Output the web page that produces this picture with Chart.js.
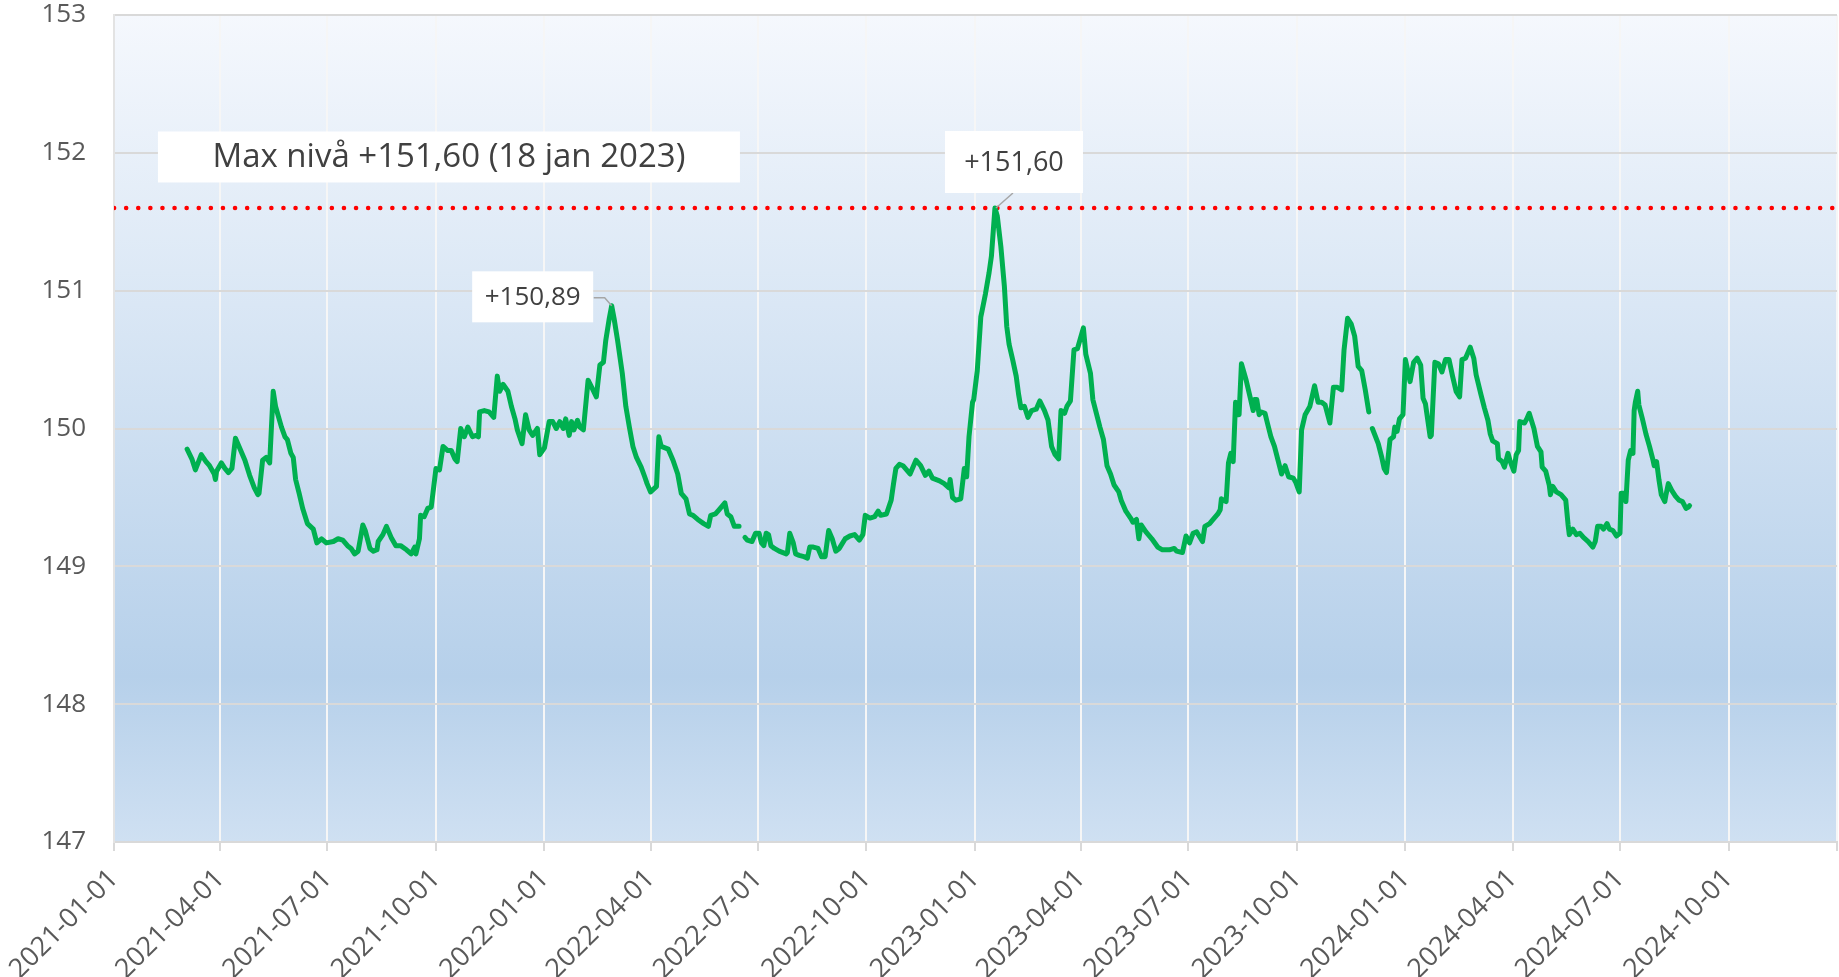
<!DOCTYPE html>
<html>
<head>
<meta charset="utf-8">
<script src="https://cdn.jsdelivr.net/npm/chart.js@4.4.1/dist/chart.umd.min.js"></script>
<style>
  html, body { margin: 0; padding: 0; background: #ffffff; }
  #wrap { width: 1839px; height: 977px; position: relative; }
</style>
</head>
<body>
<div id="wrap"><canvas id="levelChart"></canvas></div>
<script>
// ---------- data ----------
const dates = [
  '2021-03-04','2021-03-08','2021-03-11','2021-03-16','2021-03-20','2021-03-23','2021-03-27','2021-03-28','2021-03-29','2021-04-02',
  '2021-04-05','2021-04-08','2021-04-11','2021-04-14','2021-04-17','2021-04-22','2021-04-26','2021-04-30','2021-05-03','2021-05-04',
  '2021-05-07','2021-05-10','2021-05-13','2021-05-16','2021-05-18','2021-05-23','2021-05-26','2021-05-28','2021-05-31','2021-06-02',
  '2021-06-04','2021-06-07','2021-06-10','2021-06-14','2021-06-19','2021-06-22','2021-06-26','2021-06-30','2021-07-06','2021-07-10',
  '2021-07-14','2021-07-18','2021-07-21','2021-07-24','2021-07-27','2021-07-31','2021-08-02','2021-08-06','2021-08-09','2021-08-12',
  '2021-08-13','2021-08-17','2021-08-20','2021-08-24','2021-08-28','2021-09-01','2021-09-06','2021-09-10','2021-09-13','2021-09-14',
  '2021-09-17','2021-09-18','2021-09-21','2021-09-24','2021-09-27','2021-10-01','2021-10-04','2021-10-07','2021-10-11','2021-10-14',
  '2021-10-17','2021-10-19','2021-10-22','2021-10-25','2021-10-28','2021-11-01','2021-11-04','2021-11-06','2021-11-07','2021-11-11',
  '2021-11-15','2021-11-19','2021-11-22','2021-11-24','2021-11-27','2021-12-01','2021-12-04','2021-12-07','2021-12-09','2021-12-13',
  '2021-12-16','2021-12-19','2021-12-22','2021-12-26','2021-12-28','2022-01-01','2022-01-05','2022-01-08','2022-01-11','2022-01-14',
  '2022-01-17','2022-01-19','2022-01-22','2022-01-24','2022-01-26','2022-01-29','2022-01-31','2022-02-03','2022-02-07','2022-02-10',
  '2022-02-14','2022-02-17','2022-02-20','2022-02-22','2022-02-25','2022-02-27','2022-03-01','2022-03-04','2022-03-08','2022-03-11',
  '2022-03-14','2022-03-17','2022-03-20','2022-03-24','2022-03-27','2022-03-29','2022-04-01','2022-04-06','2022-04-08','2022-04-10',
  '2022-04-16','2022-04-20','2022-04-24','2022-04-27','2022-05-01','2022-05-04','2022-05-07','2022-05-11','2022-05-16','2022-05-20',
  '2022-05-22','2022-05-26','2022-05-29','2022-06-03','2022-06-05','2022-06-08','2022-06-11','2022-06-15','2022-06-17','2022-06-20',
  '2022-06-22','2022-06-26','2022-06-29','2022-07-02','2022-07-04','2022-07-06','2022-07-08','2022-07-10','2022-07-12','2022-07-15',
  '2022-07-19','2022-07-25','2022-07-26','2022-07-28','2022-07-31','2022-08-02','2022-08-05','2022-08-09','2022-08-12','2022-08-14',
  '2022-08-17','2022-08-21','2022-08-24','2022-08-27','2022-08-30','2022-09-02','2022-09-05','2022-09-08','2022-09-13','2022-09-17',
  '2022-09-21','2022-09-25','2022-09-28','2022-09-30','2022-10-04','2022-10-08','2022-10-11','2022-10-13','2022-10-18','2022-10-22',
  '2022-10-24','2022-10-26','2022-10-29','2022-11-01','2022-11-07','2022-11-12','2022-11-16','2022-11-20','2022-11-23','2022-11-26',
  '2022-12-02','2022-12-06','2022-12-10','2022-12-11','2022-12-13','2022-12-16','2022-12-20','2022-12-23','2022-12-25','2022-12-27',
  '2022-12-30','2022-12-31','2023-01-03','2023-01-06','2023-01-07','2023-01-10','2023-01-13','2023-01-15','2023-01-18','2023-01-20',
  '2023-01-23','2023-01-26','2023-01-28','2023-01-30','2023-02-02','2023-02-05','2023-02-07','2023-02-09','2023-02-12','2023-02-15',
  '2023-02-18','2023-02-22','2023-02-25','2023-03-01','2023-03-04','2023-03-07','2023-03-10','2023-03-13','2023-03-15','2023-03-18',
  '2023-03-20','2023-03-23','2023-03-26','2023-03-29','2023-04-03','2023-04-05','2023-04-09','2023-04-11','2023-04-14','2023-04-17',
  '2023-04-20','2023-04-23','2023-04-26','2023-04-29','2023-05-03','2023-05-05','2023-05-09','2023-05-13','2023-05-15','2023-05-18',
  '2023-05-20','2023-05-22','2023-05-26','2023-05-31','2023-06-05','2023-06-09','2023-06-15','2023-06-19','2023-06-21','2023-06-26',
  '2023-06-29','2023-07-02','2023-07-05','2023-07-08','2023-07-13','2023-07-15','2023-07-19','2023-07-22','2023-07-26','2023-07-28',
  '2023-07-29','2023-08-02','2023-08-04','2023-08-06','2023-08-08','2023-08-10','2023-08-13','2023-08-15','2023-08-19','2023-08-22',
  '2023-08-25','2023-08-26','2023-08-28','2023-08-30','2023-09-01','2023-09-04','2023-09-06','2023-09-09','2023-09-12','2023-09-15',
  '2023-09-18','2023-09-21','2023-09-24','2023-09-28','2023-09-30','2023-10-03','2023-10-05','2023-10-08','2023-10-12','2023-10-16',
  '2023-10-19','2023-10-22','2023-10-25','2023-10-29','2023-11-01','2023-11-04','2023-11-08','2023-11-10','2023-11-13','2023-11-16',
  '2023-11-19','2023-11-22','2023-11-25','2023-11-28','2023-12-01','2023-12-02','2023-12-04','2023-12-09','2023-12-12','2023-12-14',
  '2023-12-16','2023-12-19','2023-12-22','2023-12-23','2023-12-25','2023-12-27','2023-12-30','2024-01-01','2024-01-03','2024-01-05',
  '2024-01-08','2024-01-11','2024-01-14','2024-01-16','2024-01-18','2024-01-22','2024-01-23','2024-01-26','2024-01-29','2024-02-01',
  '2024-02-04','2024-02-07','2024-02-10','2024-02-13','2024-02-16','2024-02-18','2024-02-21','2024-02-25','2024-02-28','2024-03-01',
  '2024-03-05','2024-03-08','2024-03-11','2024-03-13','2024-03-15','2024-03-19','2024-03-20','2024-03-23','2024-03-25','2024-03-28',
  '2024-03-30','2024-04-02','2024-04-04','2024-04-06','2024-04-07','2024-04-11','2024-04-13','2024-04-15','2024-04-19','2024-04-22',
  '2024-04-25','2024-04-26','2024-04-29','2024-05-02','2024-05-03','2024-05-05','2024-05-08','2024-05-12','2024-05-16','2024-05-18',
  '2024-05-19','2024-05-22','2024-05-25','2024-05-28','2024-05-31','2024-06-04','2024-06-08','2024-06-10','2024-06-12','2024-06-15',
  '2024-06-17','2024-06-20','2024-06-22','2024-06-25','2024-06-28','2024-07-01','2024-07-02','2024-07-04','2024-07-06','2024-07-08',
  '2024-07-10','2024-07-12','2024-07-13','2024-07-14','2024-07-16','2024-07-17','2024-07-20','2024-07-23','2024-07-26','2024-07-29',
  '2024-07-30','2024-08-01','2024-08-03','2024-08-05','2024-08-08','2024-08-09','2024-08-11','2024-08-14','2024-08-17','2024-08-20',
  '2024-08-23','2024-08-26','2024-08-28','2024-08-29'
];

// null = gap in the series
const values = [
  149.85,149.78,149.70,149.81,149.76,149.73,149.67,149.63,149.69,149.75,
  149.71,149.68,149.71,149.93,149.87,149.77,149.66,149.57,149.52,149.53,
  149.77,149.79,149.75,150.27,150.16,150.01,149.94,149.92,149.82,149.79,
  149.63,149.53,149.42,149.31,149.27,149.17,149.20,149.17,149.18,149.20,
  149.19,149.15,149.13,149.09,149.11,149.30,149.26,149.13,149.11,149.12,
  149.18,149.23,149.29,149.21,149.15,149.15,149.12,149.09,149.14,149.09,
  149.20,149.37,149.36,149.42,149.43,149.71,149.70,149.87,149.84,149.84,
  149.78,149.76,150.00,149.94,150.01,149.94,149.95,149.94,150.12,150.13,
  150.12,150.08,150.38,150.27,150.32,150.27,150.16,150.07,149.99,149.89,
  150.10,149.99,149.95,150.00,149.81,149.86,150.05,150.05,150.00,150.05,
  150.00,150.07,149.95,150.05,149.99,150.06,150.01,149.99,150.35,150.30,
  150.23,150.46,150.48,150.64,150.80,150.89,150.80,150.64,150.40,150.16,
  150.01,149.87,149.79,149.72,149.65,149.60,149.54,149.58,149.94,149.87,
  149.85,149.77,149.67,149.53,149.49,149.38,149.37,149.34,149.31,149.29,
  149.37,149.38,149.41,149.46,149.38,149.36,149.29,149.29,null,149.21,
  149.19,149.18,149.24,149.24,149.17,149.15,149.24,149.23,149.15,149.13,
  149.11,149.09,149.10,149.24,149.17,149.09,149.08,149.07,149.06,149.14,
  149.14,149.13,149.07,149.07,149.26,149.20,149.11,149.13,149.20,149.22,
  149.23,149.19,149.23,149.37,149.35,149.36,149.40,149.37,149.38,149.48,
  149.60,149.71,149.74,149.73,149.67,149.77,149.73,149.66,149.69,149.64,
  149.62,149.60,149.57,149.63,149.50,149.48,149.49,149.71,149.65,149.94,
  150.19,150.21,150.42,150.81,150.85,150.98,151.13,151.25,151.60,151.54,
  151.32,151.03,150.74,150.61,150.50,150.38,150.25,150.15,150.16,150.08,
  150.13,150.14,150.20,150.13,150.06,149.87,149.81,149.78,150.13,150.11,
  150.16,150.20,150.57,150.58,150.73,150.54,150.40,150.21,150.11,150.01,
  149.92,149.73,149.67,149.59,149.54,149.48,149.40,149.35,149.32,149.34,
  149.20,149.30,149.25,149.20,149.14,149.12,149.12,149.13,149.11,149.10,
  149.22,149.17,149.24,149.25,149.18,149.29,149.31,149.34,149.38,149.41,
  149.49,149.47,149.75,149.82,149.76,150.19,150.10,150.47,150.35,150.24,
  150.13,150.21,150.21,150.10,150.12,150.11,150.04,149.94,149.87,149.77,
  149.67,149.73,149.65,149.64,149.61,149.54,149.99,150.10,150.16,150.31,
  150.19,150.19,150.17,150.04,150.30,150.30,150.28,150.57,150.80,150.76,
  150.67,150.45,150.42,150.28,150.12,null,150.00,149.89,149.79,149.71,
  149.68,149.92,149.94,150.01,149.98,150.07,150.10,150.50,150.42,150.34,
  150.48,150.51,150.46,150.22,150.18,149.94,149.95,150.48,150.47,150.41,
  150.50,150.50,150.38,150.27,150.23,150.50,150.51,150.59,150.51,150.39,
  150.25,150.15,150.06,149.96,149.91,149.89,149.78,149.76,149.72,149.82,
  149.76,149.69,149.81,149.84,150.05,150.04,150.07,150.11,150.00,149.87,
  149.83,149.72,149.69,149.59,149.52,149.58,149.54,149.52,149.48,149.30,
  149.23,149.27,149.23,149.24,149.21,149.18,149.14,149.18,149.29,149.29,
  149.27,149.31,149.27,149.26,149.22,149.24,149.53,149.53,149.47,149.77,
  149.84,149.82,150.13,150.19,150.27,150.17,150.07,149.96,149.87,149.77,
  149.73,149.76,149.63,149.52,149.47,149.52,149.60,149.55,149.51,149.48,
  149.47,149.42,149.43,149.44
];

const quarterTicks = [
  '2021-01-01','2021-04-01','2021-07-01','2021-10-01',
  '2022-01-01','2022-04-01','2022-07-01','2022-10-01',
  '2023-01-01','2023-04-01','2023-07-01','2023-10-01',
  '2024-01-01','2024-04-01','2024-07-01','2024-10-01',
  '2025-01-01'
];
const yTicks = [147, 148, 149, 150, 151, 152, 153];

const maxLevel = 151.60;
const maxDate = '2023-01-18';
const secondPeakDate = '2022-02-27';

const swedishMonths = ['jan','feb','mar','apr','maj','jun','jul','aug','sep','okt','nov','dec'];

// ---------- helpers ----------
const toMs = d => Date.parse(d + 'T00:00:00Z');
const fmtLevel = v => '+' + v.toFixed(2).replace('.', ',');
const fmtDay = d => {
  const t = new Date(toMs(d));
  return t.getUTCDate() + ' ' + swedishMonths[t.getUTCMonth()] + ' ' + t.getUTCFullYear();
};
const valueAt = d => values[dates.indexOf(d)];

const xMin = toMs(quarterTicks[0]);
const xMax = toMs(quarterTicks[quarterTicks.length - 1]);

const FONT = "'Open Sans', 'DejaVu Sans', sans-serif";
const TEXT = '#595959';

/* ================= BACKGROUND GRADIENT ================= */

const plotBackground = {
  id: 'plotBackground',
  beforeDraw(chart) {
    const { ctx, chartArea: a } = chart;
    const g = ctx.createLinearGradient(0, a.top, 0, a.bottom);
    g.addColorStop(0, '#f5f8fd');
    g.addColorStop(0.35, '#dae7f5');
    g.addColorStop(0.8, '#b6d0ea');
    g.addColorStop(1, '#cfe0f2');
    ctx.save();
    ctx.fillStyle = g;
    ctx.fillRect(a.left, a.top, a.right - a.left, a.bottom - a.top);
    ctx.restore();
  }
};

/* ================= LABEL BOXES ================= */

function labelBox(ctx, cx, cy, w, h, text, size) {
  ctx.fillStyle = '#ffffff';
  ctx.fillRect(cx - w / 2, cy - h / 2, w, h);
  ctx.fillStyle = '#404040';
  ctx.font = size + 'px ' + FONT;
  ctx.textAlign = 'center';
  ctx.textBaseline = 'middle';
  ctx.fillText(text, cx, cy + 1);
}

const annotations = {
  id: 'annotations',
  afterDatasetsDraw(chart) {
    const { ctx, scales: { x, y } } = chart;
    ctx.save();

    // headline box
    const hx = x.getPixelForValue(toMs('2021-10-12'));
    const hy = y.getPixelForValue(151.97);
    labelBox(ctx, hx, hy, 582, 51,
      'Max nivå ' + fmtLevel(maxLevel) + ' (' + fmtDay(maxDate) + ')', 33);

    // top peak label
    const p1x = x.getPixelForValue(toMs(maxDate));
    const p1y = y.getPixelForValue(valueAt(maxDate));
    ctx.strokeStyle = '#a6a6a6';
    ctx.lineWidth = 1.5;
    ctx.beginPath();
    ctx.moveTo(p1x + 18, p1y - 15);
    ctx.lineTo(p1x + 1, p1y);
    ctx.stroke();
    labelBox(ctx, p1x + 19, p1y - 46, 138, 62, fmtLevel(valueAt(maxDate)), 27);

    // 2022 peak label
    const p2x = x.getPixelForValue(toMs(secondPeakDate));
    const p2y = y.getPixelForValue(valueAt(secondPeakDate));
    ctx.beginPath();
    ctx.moveTo(p2x - 18, p2y - 8);
    ctx.lineTo(p2x - 7, p2y - 8);
    ctx.lineTo(p2x, p2y);
    ctx.stroke();
    labelBox(ctx, p2x - 79, p2y - 9, 121, 51, fmtLevel(valueAt(secondPeakDate)), 26);

    ctx.restore();
  }
};

/* ================= CHART ================= */

const ctx = document.getElementById('levelChart').getContext('2d');

new Chart(ctx, {
  type: 'line',
  data: {
    datasets: [
      {
        label: 'Nivå',
        data: dates.map((d, i) => ({ x: toMs(d), y: values[i] })),
        borderColor: '#00b050',
        borderWidth: 5,
        pointRadius: 0,
        tension: 0,
        spanGaps: false,
        borderJoinStyle: 'round',
        borderCapStyle: 'round'
      },
      {
        label: 'Max nivå',
        data: [{ x: xMin, y: maxLevel }, { x: xMax, y: maxLevel }],
        borderColor: '#ff0000',
        borderWidth: 4.5,
        borderDash: [0.1, 12],
        borderCapStyle: 'round',
        pointRadius: 0
      }
    ]
  },
  options: {
    responsive: true,
    maintainAspectRatio: false,
    animation: false,
    devicePixelRatio: 1,
    layout: { padding: { top: 15, right: 2, left: 0, bottom: 0 } },
    plugins: {
      legend: { display: false },
      tooltip: { enabled: false }
    },
    scales: {
      x: {
        type: 'linear',
        min: xMin,
        max: xMax,
        afterBuildTicks: scale => {
          scale.ticks = quarterTicks.map(d => ({ value: toMs(d) }));
        },
        afterFit: scale => {
          scale.height = 135;
          scale.paddingLeft = 0;
          scale.paddingRight = 0;
        },
        ticks: {
          autoSkip: false,
          maxRotation: 45,
          minRotation: 45,
          padding: 12,
          color: TEXT,
          font: { family: FONT, size: 27 },
          callback: v => {
            const s = new Date(v).toISOString().slice(0, 10);
            return s === quarterTicks[quarterTicks.length - 1] ? '' : s;
          }
        },
        grid: {
          color: '#f6f6f6',
          lineWidth: 2,
          drawTicks: true,
          tickLength: 9,
          tickColor: '#d9d9d9'
        },
        border: { display: true, color: '#d9d9d9', width: 2 }
      },
      y: {
        min: yTicks[0],
        max: yTicks[yTicks.length - 1],
        afterBuildTicks: scale => {
          scale.ticks = yTicks.map(v => ({ value: v }));
        },
        afterFit: scale => {
          scale.width = 114;
          scale.paddingTop = 0;
          scale.paddingBottom = 0;
        },
        ticks: {
          padding: 28,
          color: TEXT,
          font: { family: FONT, size: 26 }
        },
        grid: {
          color: '#d9d9d9',
          lineWidth: 2,
          drawTicks: false
        },
        border: { display: true, color: '#e3e3e3', width: 2 }
      }
    }
  },
  plugins: [plotBackground, annotations]
});
</script>
</body>
</html>
